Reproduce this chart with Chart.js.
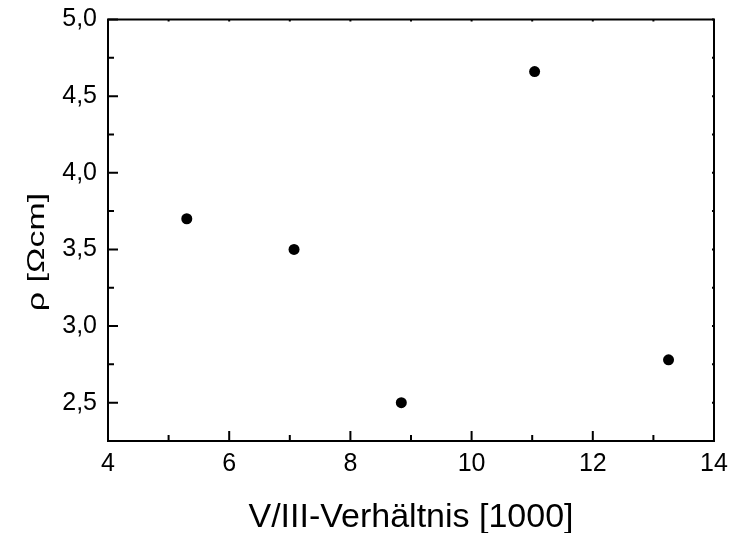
<!DOCTYPE html>
<html>
<head>
<meta charset="utf-8">
<script src="https://cdn.jsdelivr.net/npm/chart.js@4/dist/chart.umd.min.js"></script>
<style>
html,body{margin:0;padding:0;background:#fff;}
#wrap{width:732px;height:533px;position:relative;}
</style>
</head>
<body>
<div id="wrap"><canvas id="c" width="732" height="533"></canvas></div>
<script>
// Data
const ratioValues = [5.30, 7.07, 8.84, 11.04, 13.25];      // V/III-Verhältnis [1000]
const rhoValues   = [3.70, 3.50, 2.50, 4.66, 2.78];         // ρ [Ωcm]
const xTicks = [4, 6, 8, 10, 12, 14];
const xMinorTicks = [5, 7, 9, 11, 13];
const yTicks = [2.5, 3.0, 3.5, 4.0, 4.5, 5.0];
const yMinorTicks = [2.25, 2.75, 3.25, 3.75, 4.25, 4.75];
const xTitle = 'V/III-Verhältnis [1000]';
const yTitle = 'ρ [Ωcm]';

const FONT = '"Liberation Sans", Arial, sans-serif';

const framePlugin = {
  id: 'frame',
  afterDraw(chart) {
    const ctx = chart.ctx;
    const a = chart.chartArea;
    const xs = chart.scales.x, ys = chart.scales.y;
    ctx.save();
    ctx.strokeStyle = '#000';
    ctx.lineWidth = 2;
    ctx.strokeRect(a.left, a.top, a.right - a.left, a.bottom - a.top);
    ctx.beginPath();
    const tick = (x1, y1, x2, y2) => { ctx.moveTo(x1, y1); ctx.lineTo(x2, y2); };
    xTicks.forEach(v => {
      const p = xs.getPixelForValue(v);
      tick(p, a.bottom, p, a.bottom - 10);
      tick(p, a.top, p, a.top + 2);
    });
    xMinorTicks.forEach(v => {
      const p = xs.getPixelForValue(v);
      tick(p, a.bottom, p, a.bottom - 6);
      tick(p, a.top, p, a.top + 2);
    });
    yTicks.forEach(v => {
      const p = ys.getPixelForValue(v);
      tick(a.left, p, a.left + 10, p);
      tick(a.right, p, a.right - 2, p);
    });
    yMinorTicks.forEach(v => {
      const p = ys.getPixelForValue(v);
      tick(a.left, p, a.left + 6, p);
      tick(a.right, p, a.right - 2, p);
    });
    ctx.stroke();

    // axis titles
    ctx.fillStyle = '#000';
    ctx.font = '34px ' + FONT;
    ctx.textAlign = 'center';
    ctx.textBaseline = 'alphabetic';
    ctx.fillText(xTitle, (a.left + a.right) / 2, 527);

    ctx.save();
    ctx.translate(44, 252);
    ctx.rotate(-Math.PI / 2);
    ctx.scale(1, 0.72);
    ctx.fillText(yTitle, 0, 0);
    ctx.restore();
    ctx.restore();
  }
};

new Chart(document.getElementById('c'), {
  type: 'scatter',
  data: {
    datasets: [{
      data: ratioValues.map((x, i) => ({ x: x, y: rhoValues[i] })),
      backgroundColor: '#000',
      borderColor: '#000',
      borderWidth: 0,
      pointRadius: 5.5,
      pointHoverRadius: 5.5
    }]
  },
  options: {
    responsive: false,
    animation: false,
    events: [],
    layout: { padding: { left: 0, right: 18, top: 19.5, bottom: 0 } },
    plugins: { legend: { display: false }, tooltip: { enabled: false } },
    scales: {
      x: {
        type: 'linear',
        min: 4, max: 14,
        grid: { display: false, drawTicks: false },
        border: { display: false },
        afterBuildTicks: s => { s.ticks = xTicks.map(v => ({ value: v })); },
        afterFit: s => { s.height = 92; s.paddingLeft = 0; s.paddingRight = 0; },
        ticks: {
          color: '#000',
          font: { family: FONT, size: 25 },
          padding: 8,
          maxRotation: 0,
          autoSkip: false,
          callback: v => String(v)
        }
      },
      y: {
        type: 'linear',
        min: 2.25, max: 5.0,
        grid: { display: false, drawTicks: false },
        border: { display: false },
        afterBuildTicks: s => { s.ticks = yTicks.map(v => ({ value: v })); },
        afterFit: s => { s.width = 108; s.paddingTop = 0; s.paddingBottom = 0; },
        ticks: {
          color: '#000',
          font: { family: FONT, size: 25 },
          padding: 11,
          autoSkip: false,
          callback: v => v.toFixed(1).replace('.', ',')
        }
      }
    }
  },
  plugins: [framePlugin]
});
</script>
</body>
</html>
